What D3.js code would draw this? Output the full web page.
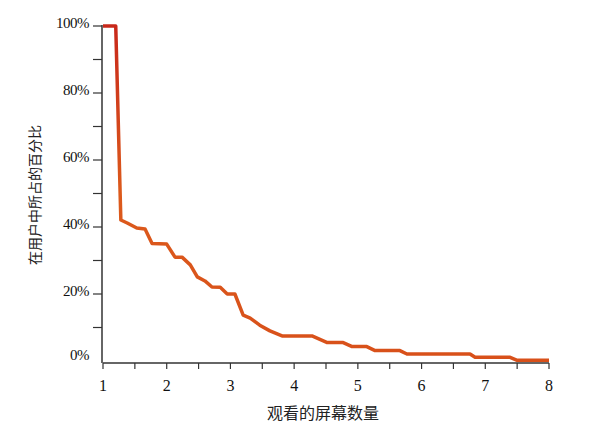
<!DOCTYPE html>
<html><head><meta charset="utf-8">
<script src="https://cdn.jsdelivr.net/npm/d3@7/dist/d3.min.js"></script>
<style>body{margin:0;background:#fff}svg{display:block}</style>
</head><body>
<script>
// screens viewed
const screens = [1,1.2,1.28,1.38,1.53,1.66,1.77,2.0,2.13,2.24,2.37,2.48,2.6,2.71,2.84,2.95,3.07,3.2,3.31,3.46,3.62,3.81,4.28,4.52,4.77,4.91,5.14,5.27,5.66,5.77,6.76,6.84,7.39,7.5,8];
// percent of users
const percents = [100,100,42.1,41.2,39.7,39.4,35.1,34.9,31.0,31.0,28.7,25.1,23.9,22.1,22.0,20.0,20.0,13.7,12.8,10.7,9.0,7.5,7.5,5.5,5.5,4.3,4.3,3.1,3.1,2.1,2.1,1.1,1.1,0.2,0.2];
const xTicks = [1,2,3,4,5,6,7,8];
const yTicks = [0,20,40,60,80,100];
const xTitle = "观看的屏幕数量";
const yTitle = "在用户中所占的百分比";

const W=600,H=431;
const svg=d3.select("body").append("svg").attr("width",W).attr("height",H);
const x=d3.scaleLinear().domain([1,8]).range([103,549]);
const y=d3.scaleLinear().domain([0,100]).range([361,26]);
const axisY=363;
const serif="'Liberation Serif','DejaVu Serif',serif";
const axisColor="#333";

// x axis
const gx=svg.append("g").attr("transform",`translate(0,${axisY})`);
gx.append("line").attr("x1",x(1)).attr("x2",x(8)).attr("stroke",axisColor).attr("stroke-width",1.5);
const xMinor=d3.range(1,8.01,0.5);
gx.selectAll("line.t").data(xMinor).join("line").attr("class","t")
  .attr("x1",d=>x(d)).attr("x2",d=>x(d)).attr("y1",0).attr("y2",6)
  .attr("stroke",axisColor).attr("stroke-width",1.2);
gx.selectAll("text").data(xTicks).join("text")
  .attr("x",d=>x(d)).attr("y",28).attr("text-anchor","middle")
  .attr("font-family",serif).attr("font-size",16).attr("fill","#111").text(d=>d);

// y axis
const gy=svg.append("g").attr("transform",`translate(102,0)`);
gy.append("line").attr("y1",y(100)-1).attr("y2",axisY).attr("stroke",axisColor).attr("stroke-width",1.5);
const yMinor=d3.range(10,101,10);
gy.selectAll("line.t").data(yMinor).join("line").attr("class","t")
  .attr("x1",-9).attr("x2",0).attr("y1",d=>y(d)).attr("y2",d=>y(d))
  .attr("stroke",axisColor).attr("stroke-width",1.2);
gy.selectAll("text").data(yTicks).join("text")
  .attr("x",-13).attr("y",d=>y(d)+ (d===0?-1:2)).attr("text-anchor","end")
  .attr("font-family",serif).attr("font-size",15).attr("fill","#111")
  .attr("letter-spacing",-0.5).text(d=>d+"%");

// titles
svg.append("text").attr("x",323).attr("y",419).attr("text-anchor","middle")
  .attr("font-family","'Noto Sans CJK SC',sans-serif").attr("font-size",16).attr("fill","#222").text(xTitle);
svg.append("text").attr("transform","translate(40,195) rotate(-90)").attr("text-anchor","middle")
  .attr("font-family","'Noto Sans CJK SC',sans-serif").attr("font-size",14).attr("fill","#222").text(yTitle);

// gradient
const defs=svg.append("defs");
const grad=defs.append("linearGradient").attr("id","lg").attr("gradientUnits","userSpaceOnUse")
  .attr("x1",0).attr("y1",y(100)).attr("x2",0).attr("y2",y(0));
grad.append("stop").attr("offset","0%").attr("stop-color","#c8281a");
grad.append("stop").attr("offset","50%").attr("stop-color","#dc5a1c");
grad.append("stop").attr("offset","100%").attr("stop-color","#d8501a");

const data=screens.map((s,i)=>[s,percents[i]]);
svg.append("path").datum(data)
  .attr("d",d3.line().x(d=>x(d[0])).y(d=>y(d[1])))
  .attr("fill","none").attr("stroke","url(#lg)").attr("stroke-width",3.5)
  .attr("stroke-linejoin","round");
</script>
</body></html>
